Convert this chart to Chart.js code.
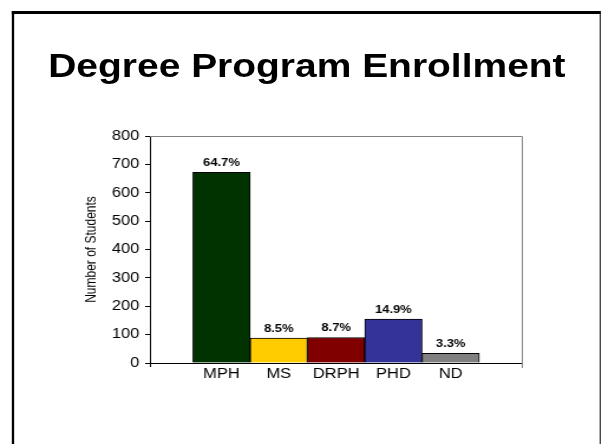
<!DOCTYPE html>
<html>
<head>
<meta charset="utf-8">
<script src="https://cdn.jsdelivr.net/npm/chart.js@4/dist/chart.umd.min.js"></script>
<style>
  html, body { margin: 0; padding: 0; background: #fff; overflow: hidden; }
  /* the slide is laid out narrow and stretched sideways, like the original deck */
  .stage {
    position: absolute; left: 0; top: 0;
    width: 510px; height: 444px;
    transform: scaleX(1.1804); transform-origin: 0 0;
  }
  .frame {
    position: absolute; left: 10px; top: 11px; width: 496px; height: 460px;
    border-left: 2.5px solid #000; border-top: 3px solid #000; border-right: 1.8px solid #222;
  }
  .title {
    position: absolute; left: 11px; width: 498px; top: 49px;
    text-align: center; font: bold 33px/33px "Liberation Sans", Arial, sans-serif; color: #000;
  }
  canvas { position: absolute; left: 0; top: 0; }
</style>
</head>
<body>
<div class="stage">
  <div class="frame"></div>
  <div class="title">Degree Program Enrollment</div>
  <canvas id="chart" width="510" height="444"></canvas>
</div>
<script>
const programs = ["MPH", "MS", "DRPH", "PHD", "ND"];
const students = [672, 88, 90, 155, 34];
const yMin = 0;
const yMax = 800;
const yStep = 100;

const barColors = ["#003300", "#FFCC00", "#800000", "#333399", "#808080"];

const total = students.reduce((a, b) => a + b, 0);
const shares = students.map((n) => ((n / total) * 100).toFixed(1) + "%");

const font = '"Liberation Sans", Arial, sans-serif';

// gray plot-area frame (top/right) plus the end tick under the x axis
const plotFrame = {
  id: "plotFrame",
  afterDraw(chart) {
    const { ctx, chartArea: a } = chart;
    ctx.save();
    ctx.lineWidth = 1;
    ctx.strokeStyle = "#808080";
    ctx.beginPath();
    ctx.moveTo(a.left, Math.round(a.top) + 0.5);
    ctx.lineTo(Math.round(a.right) + 0.5, Math.round(a.top) + 0.5);
    ctx.lineTo(Math.round(a.right) + 0.5, a.bottom + 5);
    ctx.stroke();
    ctx.strokeStyle = "#000";
    ctx.beginPath();
    ctx.moveTo(Math.round(a.left) + 0.5, a.bottom);
    ctx.lineTo(Math.round(a.left) + 0.5, a.bottom + 4);
    ctx.stroke();
    ctx.restore();
  },
};

// share of enrollment printed over each bar
const shareLabels = {
  id: "shareLabels",
  afterDatasetsDraw(chart) {
    const { ctx } = chart;
    const meta = chart.getDatasetMeta(0);
    ctx.save();
    ctx.font = "bold 11px " + font;
    ctx.fillStyle = "#000";
    ctx.textAlign = "center";
    ctx.textBaseline = "alphabetic";
    meta.data.forEach((bar, i) => {
      ctx.fillText(shares[i], bar.x, bar.y - 6);
    });
    ctx.restore();
  },
};

new Chart(document.getElementById("chart"), {
  type: "bar",
  data: {
    datasets: [
      {
        data: students.map((v, i) => ({ x: i, y: v })),
        backgroundColor: barColors,
        borderColor: "#000",
        borderWidth: 1,
        barPercentage: 1,
        categoryPercentage: 1,
      },
    ],
  },
  options: {
    responsive: false,
    animation: false,
    layout: { padding: { left: 70, top: 136, right: 68, bottom: 51 } },
    plugins: { legend: { display: false }, tooltip: { enabled: false } },
    scales: {
      x: {
        type: "linear",
        offset: false,
        min: -1.25,
        max: 5.24,
        afterBuildTicks: (scale) => {
          scale.ticks = programs.map((_, i) => ({ value: i }));
        },
        afterFit: (scale) => { scale.height = 30; },
        grid: { display: false, drawTicks: false, offset: false },
        border: { display: true, color: "#000", width: 1 },
        ticks: {
          autoSkip: false,
          maxRotation: 0,
          padding: 3,
          color: "#000",
          font: { family: font, size: 14 },
          callback: (v) => programs[v] ?? "",
        },
      },
      y: {
        min: yMin,
        max: yMax,
        afterFit: (scale) => { scale.width = 57; },
        grid: { drawOnChartArea: false, drawTicks: true, tickLength: 4, color: "#000" },
        border: { display: true, color: "#000", width: 1 },
        ticks: {
          stepSize: yStep,
          padding: 5,
          color: "#000",
          font: { family: font, size: 14 },
        },
        title: {
          display: true,
          text: "Number of Students",
          color: "#000",
          padding: 0,
          font: { family: font, size: 12 },
        },
      },
    },
  },
  plugins: [plotFrame, shareLabels],
});
</script>
</body>
</html>
